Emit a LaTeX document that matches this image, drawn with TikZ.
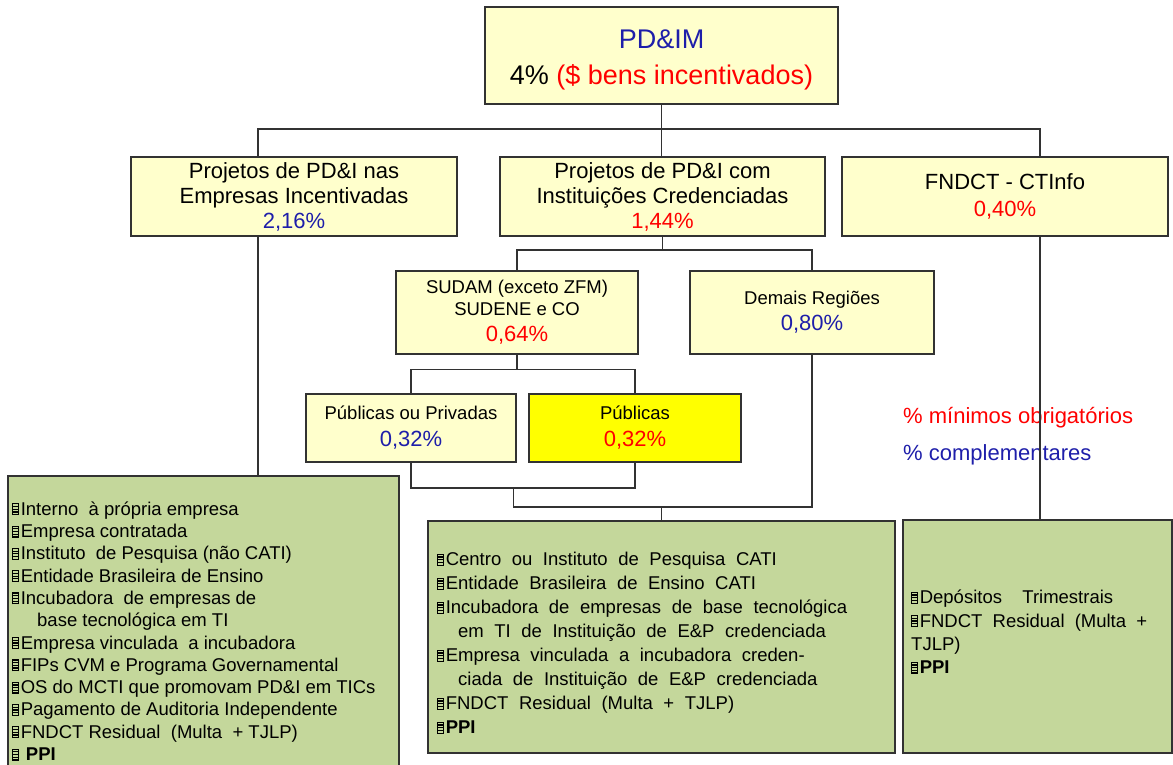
\documentclass[tikz,border=0pt]{standalone}
\usepackage{fontspec}
\setmainfont{Liberation Sans}
\usetikzlibrary{calc}
\definecolor{yel}{RGB}{255,255,204}
\definecolor{yelB}{RGB}{255,255,0}
\definecolor{grn}{RGB}{196,215,155}
\definecolor{pblue}{RGB}{30,30,170}
\definecolor{pred}{RGB}{255,0,0}
\definecolor{lin}{RGB}{50,50,50}
\newcommand{\pbul}{\hbox{\vrule width1.2pt height12pt\vbox to12pt{\hrule width4.4pt height1.2pt\vfil\hrule height1.2pt\vfil\hrule height1.2pt\vfil\hrule height1.2pt\vfil\hrule height1.2pt}\vrule width1.2pt height12pt}\kern1.8pt}
\newcommand{\fsz}[2]{\fontsize{#1}{#2}\selectfont}
\newcommand{\pct}[2]{{\fsz{22}{25}\color{#1}#2}}
\begin{document}
\begin{tikzpicture}[x=1pt,y=-1pt,
  ybox/.style={draw=lin, fill=yel, line width=1.1pt, inner sep=0pt, align=center, text=black},
  gbox/.style={draw=lin, fill=grn, line width=1.1pt, inner sep=0pt},
  gtext/.style={anchor=north west, inner sep=0pt, align=left, text=black},
  conn/.style={draw=lin, line width=1.1pt},
  leg/.style={anchor=west, inner sep=0pt, font=\fsz{22}{26}}]
\useasboundingbox (0,0) rectangle (1173,765);
\clip (0,0) rectangle (1173,765);

% top
\node[ybox, minimum width=353, minimum height=97, font=\fsz{27}{36}] (top) at (661.5,55.5)
  {\rule{0pt}{28pt}\textcolor{pblue}{PD\&IM}\\ 4\% \textcolor{pred}{(\$ bens incentivados)}};

% level 1
\node[ybox, minimum width=326, minimum height=79, font=\fsz{22}{25}] (L1) at (294,196.5)
  {Projetos de PD\&I nas\\Empresas Incentivadas\\\textcolor{pblue}{2,16\%}};
\node[ybox, minimum width=325, minimum height=79, font=\fsz{22}{25}] (M1) at (662.5,196.5)
  {Projetos de PD\&I com\\Instituições Credenciadas\\\textcolor{pred}{1,44\%}};
\node[ybox, minimum width=326, minimum height=79, font=\fsz{22}{27}] (R1) at (1005,196.5)
  {FNDCT - CTInfo\\\textcolor{pred}{0,40\%}};

% level 2
\node[ybox, minimum width=242, minimum height=83, font=\fsz{18.5}{22}] (S) at (517,312.5)
  {SUDAM (exceto ZFM)\\SUDENE e CO\\[4pt]\pct{pred}{0,64\%}};
\node[ybox, minimum width=244, minimum height=83, font=\fsz{18.5}{22}] (D) at (812,312.5)
  {Demais Regiões\\[4pt]\pct{pblue}{0,80\%}};

% level 3
\node[ybox, minimum width=210, minimum height=68, font=\fsz{18.5}{22}] (P1) at (411,428)
  {Públicas ou Privadas\\[5pt]\pct{pblue}{0,32\%}};
\node[ybox, fill=yelB, minimum width=212, minimum height=68, font=\fsz{18.5}{22}] (P2) at (635,428)
  {Públicas\\[5pt]\pct{pred}{0,32\%}};

% green boxes
\node[gbox, minimum width=391, minimum height=299] (gL) at (203.5,625.5) {};
\node[gbox, minimum width=467, minimum height=232] (gM) at (661.5,637) {};
\node[gbox, minimum width=269, minimum height=233] (gR) at (1037.5,636.5) {};

\node[gtext, font=\fsz{18.5}{22.3}] (gLt) at (12,500)
  {\rule{0pt}{15pt}\pbul Interno\ \ à própria empresa\\
   \pbul Empresa contratada\\
   \pbul Instituto\ \ de Pesquisa (não CATI)\\
   \pbul Entidade Brasileira de Ensino\\
   \pbul Incubadora\ \ de empresas de\\
   \hspace*{25pt}base tecnológica em TI\\
   \pbul Empresa vinculada\ \ a incubadora\\
   \pbul FIPs CVM e Programa Governamental\\
   \pbul OS do MCTI que promovam PD\&I em TICs\\
   \pbul Pagamento de Auditoria Independente\\
   \pbul FNDCT Residual\ \ (Multa\ \ + TJLP)\\
   \pbul\ \textbf{PPI}};

\node[gtext, font={\fsz{18.5}{24}\spaceskip=0.57em plus 0.1em}] (gMt) at (437,550.5)
  {\rule{0pt}{15pt}\pbul Centro ou Instituto de Pesquisa CATI\\
   \pbul Entidade Brasileira de Ensino CATI\\
   \pbul Incubadora de empresas de base tecnológica\\
   \hspace*{21pt}em TI de Instituição de E\&P credenciada\\
   \pbul Empresa vinculada a incubadora creden-\\
   \hspace*{21pt}ciada de Instituição de E\&P credenciada\\
   \pbul FNDCT Residual (Multa + TJLP)\\
   \pbul\textbf{PPI}};

\node[gtext, font={\fsz{18.5}{23.3}\spaceskip=0.55em plus 0.1em}] (gRt) at (911,588.5)
  {\rule{0pt}{15pt}\pbul Depósitos\ \ Trimestrais\\
   \pbul FNDCT Residual (Multa +\\
   TJLP)\\
   \pbul\textbf{PPI}};

% legend
\node[leg, text=pred] (leg1) at (903,418) {\% mínimos obrigatórios};
\node[leg, text=pblue] (leg2) at (903,455) {\% complementares};

% connectors
\coordinate (b1L) at (258,129);
\coordinate (b1R) at (1040,129);
\draw[conn] (top.south) -- (top.south |- M1.north);
\draw[conn] (L1.north -| b1L) -- (b1L) -- (b1R) -- (R1.north -| b1R);
\draw[conn] (L1.south -| b1L) -- (gL.north -| b1L);
\draw[conn] (R1.south -| b1R) -- (gR.north -| b1R);

\coordinate (b2L) at (517,250);
\coordinate (b2R) at (812,250);
\draw[conn] (M1.south) -- (M1.south |- b2L);
\draw[conn] (S.north) -- (b2L) -- (b2R) -- (D.north);

\coordinate (b3L) at (411,369.5);
\coordinate (b3R) at (635,369.5);
\draw[conn] (S.south) -- (S.south |- b3L);
\draw[conn] (P1.north) -- (b3L) -- (b3R) -- (P2.north);

\coordinate (b4L) at (411,488);
\coordinate (b4R) at (635,488);
\draw[conn] (P1.south) -- (b4L) -- (b4R) -- (P2.south);

\coordinate (b5a) at (513.5,488);
\coordinate (b5b) at (513.5,507);
\coordinate (b5c) at (812,507);
\draw[conn] (b5a) -- (b5b) -- (b5c) -- (D.south);
\draw[conn] (gM.north |- b5b) -- (gM.north);
\end{tikzpicture}
\end{document}
